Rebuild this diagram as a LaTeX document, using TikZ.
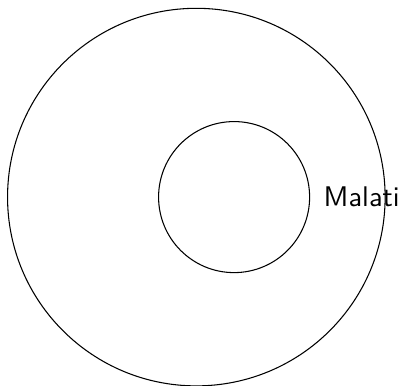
\documentclass[tikz,border=0pt]{standalone}
\usepackage{tikz}
\usetikzlibrary{positioning}

\begin{document}
\begin{tikzpicture}[
  ring/.style={circle, draw, inner sep=0pt},
  label/.style={font=\sffamily\fontsize{10.7}{13}\selectfont, inner sep=0pt}
]
  \useasboundingbox (-2.6,-2.5) rectangle (2.75,2.61);
  \node[ring, minimum size=5cm] (outer) at (0,0) {};
  \node[ring, minimum size=2cm] (inner) at (0.5,0) {};
  \node[label, anchor=west] (malati) at (1.68,0) {Malati};
\end{tikzpicture}
\end{document}
